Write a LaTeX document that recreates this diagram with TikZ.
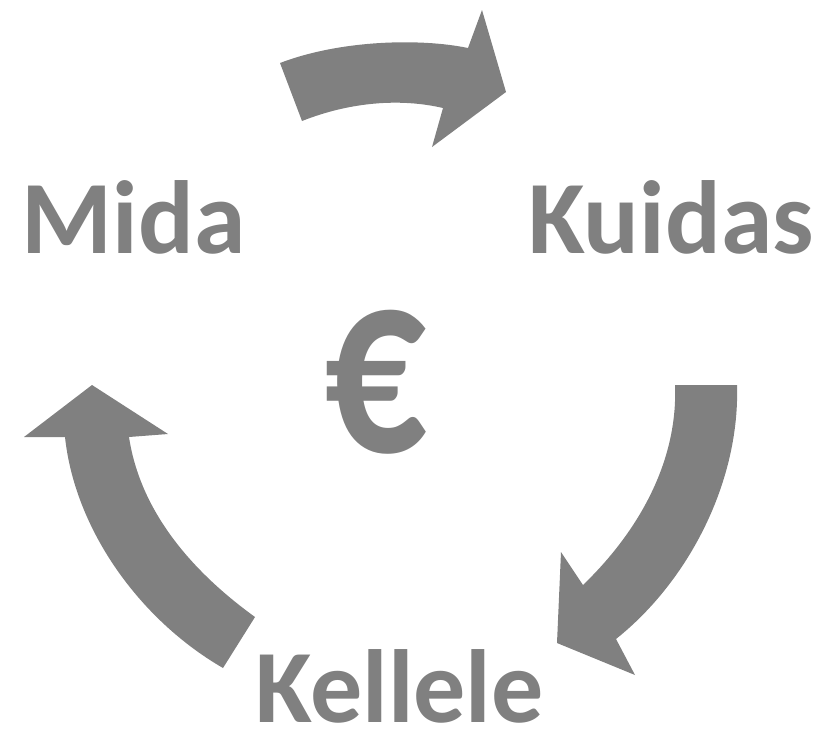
\documentclass[tikz,border=0pt]{standalone}
\usepackage{fontspec}
\setmainfont{Carlito}
\usepackage{tikz}
\definecolor{arrowgray}{RGB}{128,128,128}
\tikzset{
  blockarrow/.style={fill=arrowgray, draw=none},
  word/.style={anchor=base, inner sep=0pt, text depth=0pt, text=arrowgray, font=\fontsize{78}{84}\bfseries\selectfont}
}

\begin{document}
\begin{tikzpicture}[x=0.75pt,y=0.75pt,yscale=-1]
\useasboundingbox (0,0) rectangle (821,729);

%Shape: Curved Arrow [id:top]
\fill[blockarrow] (280,63) .. controls (340,40) and (420,38) .. (468,48) -- (482,10) -- (506,92) -- (432,147) -- (443,108) .. controls (400,98) and (350,102) .. (302,121) -- cycle ;
%Shape: Curved Arrow [id:right]
\fill[blockarrow] (675,385) -- (737,385) .. controls (740,480) and (690,580) .. (616,639) -- (635,675) -- (557,643) -- (561,552) -- (583,585) .. controls (640,530) and (678,460) .. (675,385) -- cycle ;
%Shape: Curved Arrow [id:left]
\fill[blockarrow] (92,385) -- (24,437) -- (65,437) .. controls (75,530) and (140,620) .. (223,668) -- (255,617) .. controls (190,570) and (140,510) .. (129,437) -- (168,434) -- cycle ;

% Text Node
\node[word] (mida) at (133.5,253) {Mida};
% Text Node
\node[word] (kuidas) at (671,253) {Kuidas};
% Text Node
\node[word] (kellele) at (399.5,722) {Kellele};
% Text Node
\node[word, font=\fontsize{160}{170}\bfseries\selectfont, xscale=0.95, yscale=1.23] (euro) at (376,452) {€};

\end{tikzpicture}
\end{document}
